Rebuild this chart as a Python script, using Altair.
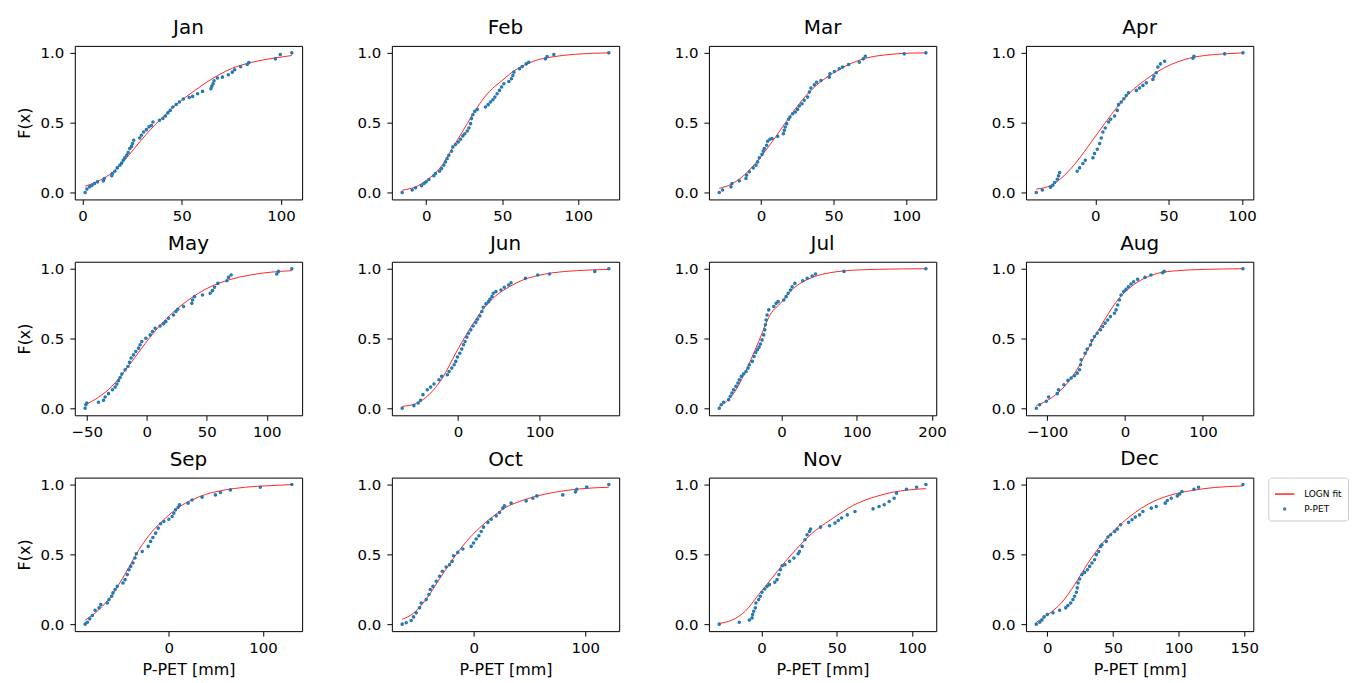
import altair as alt
import pandas as pd

FONT = "DejaVu Sans"
BLUE = "#1f77b4"
RED = "#ff0000"

months = ["Jan", "Feb", "Mar", "Apr", "May", "Jun",
          "Jul", "Aug", "Sep", "Oct", "Nov", "Dec"]
series_names = ["LOGN fit", "P-PET"]

jan_pts = [(1.3, 0), (2.2, .024), (3.5, .04), (4.7, .05), (6, .064), (7.5, .076), (10.5, .083), (11, .1),
           (14.7, .12), (15, .136), (16.3, .152), (17.5, .176), (18.8, .195), (19.7, .21), (20.5, .23),
           (21.3, .248), (22.2, .267), (23, .286), (23.8, .314), (24.7, .33), (25.2, .35), (25.8, .374),
           (28.8, .39), (29.7, .41), (30.8, .433), (32.2, .45), (33.5, .47), (34.7, .48), (35.5, .505),
           (38.8, .517), (40.5, .53), (41.8, .548), (43, .57), (44.2, .588), (45.5, .612), (47.2, .63),
           (48.8, .648), (50.8, .67), (53.8, .68), (55.5, .688), (58, .707), (60.5, .724), (64.7, .743),
           (65.2, .76), (65.8, .778), (66.3, .8), (68, .82), (70.5, .826), (73.5, .843), (75.5, .862),
           (76.7, .879), (79.7, .9), (83, .917), (83.8, .93), (97.2, .957), (99.7, .988), (105.5, 1.0)]
feb_pts = [(-15.8, 0), (-9.2, .017), (-7, .033), (-3.1, .048), (-1.5, .064), (0, .076), (1.8, .093), (5, .12),
           (6.1, .136), (8.8, .152), (10.1, .171), (11.6, .195), (12.7, .219), (13.8, .243), (14.9, .267),
           (16.7, .295), (17.5, .326), (19.3, .343), (21.1, .362), (22.6, .381), (24.1, .405), (25.4, .421),
           (27, .44), (28.1, .462), (29.2, .493), (29.8, .529), (30.7, .557), (32, .581), (33.6, .595),
           (39, .612), (40.8, .629), (42.3, .648), (43.9, .664), (45.2, .683), (46.7, .707), (48.2, .731),
           (49.6, .755), (51.1, .779), (54.4, .795), (56.1, .814), (57, .838), (57.7, .862), (61.4, .886),
           (63.2, .902), (65.8, .921), (67.5, .933), (78.5, .957), (79.6, .974), (84, .988), (120.2, 1.0)]
mar_pts = [(-28.7, 0), (-26.4, .017), (-20.6, .04), (-19.95, .064), (-14.9, .083), (-10.3, .1), (-9.9, .124),
           (-8, .148), (-5.3, .176), (-3.4, .195), (-2.3, .219), (-1.1, .248), (.7, .271), (1.6, .295),
           (2.3, .314), (3.9, .338), (4.6, .367), (6.2, .381), (7.6, .386), (11.5, .402), (15.4, .421),
           (16.1, .445), (16.7, .469), (17.7, .493), (19, .524), (20, .54), (21.8, .564), (23.6, .576),
           (25.2, .595), (26.4, .619), (28.2, .636), (29.8, .66), (32.1, .683), (33.3, .719), (34.4, .748),
           (36.7, .771), (38.3, .79), (41.3, .802), (47, .826), (47.5, .85), (50.5, .867), (53.9, .886),
           (56.2, .898), (60.3, .917), (67.7, .933), (70.4, .957), (71.8, .976), (98.6, .993), (113.5, 1.0)]
apr_pts = [(-40.2, 0), (-36.1, .017), (-30.5, .038), (-28.9, .052), (-27.7, .071), (-25.9, .095), (-25, .119),
           (-24.3, .143), (-12.3, .152), (-10.7, .176), (-8.4, .207), (-6.8, .231), (-1.6, .248), (-.5, .279),
           (1.4, .31), (3, .35), (4.1, .39), (5.2, .433), (6.8, .462), (9.1, .505), (10.5, .524), (13.2, .548),
           (15, .588), (15.9, .629), (17.7, .648), (19.5, .671), (21.1, .695), (22.7, .714), (28, .731),
           (30.2, .748), (32.5, .767), (34.8, .786), (39.3, .81), (40, .833), (41.6, .857), (42.7, .898),
           (44.5, .921), (47.3, .94), (66.6, .962), (67.3, .976), (88.2, .993), (100.7, 1.0)]
may_pts = [(-51.4, 0), (-50.8, .026), (-50, .038), (-40.3, .043), (-36.1, .057), (-34.7, .081), (-31.9, .105),
           (-28.6, .133), (-26.4, .152), (-25, .174), (-23.6, .198), (-22.2, .221), (-20.8, .245), (-18.1, .276),
           (-15.8, .3), (-14.4, .329), (-13.1, .36), (-11.1, .383), (-9.2, .407), (-6.9, .431), (-5.6, .455),
           (-4.2, .479), (-.8, .502), (2.8, .526), (4.7, .55), (6.9, .574), (11.1, .59), (13.9, .605),
           (15.8, .621), (18.1, .645), (22.2, .669), (24.2, .693), (25.8, .71), (30.6, .729), (37.5, .752),
           (38.1, .776), (39.7, .8), (46.4, .812), (52.8, .824), (54.7, .843), (56.4, .867), (59.2, .895),
           (66.7, .914), (68.1, .938), (70.3, .955), (108.3, .962), (109.7, .981), (120.8, 1.0)]
jun_pts = [(-68.7, 0), (-54.3, .019), (-49, .038), (-46.1, .057), (-43.2, .098), (-37.9, .133), (-33.7, .152),
           (-29.6, .174), (-23.5, .205), (-20.2, .229), (-13.2, .24), (-11.1, .264), (-7.8, .288), (-4.9, .312),
           (-2.9, .336), (-.8, .367), (2.1, .395), (4.5, .424), (6.6, .455), (8.6, .479), (10.7, .51),
           (12.8, .538), (15.6, .562), (18.5, .59), (21.8, .614), (23.9, .638), (26.7, .662), (29.2, .693),
           (30.9, .724), (34.2, .748), (37.4, .764), (39.1, .781), (41.6, .8), (43.2, .824), (46.5, .836),
           (52.7, .848), (56.8, .867), (62.1, .883), (65, .9), (82.7, .931), (97.9, .955), (112.3, .962),
           (167.9, .981), (185.2, 1.0)]
jul_pts = [(-82.7, 0), (-80, .026), (-76.9, .043), (-70.2, .062), (-68, .086), (-65.8, .11), (-63.6, .133),
           (-60.4, .157), (-57.8, .181), (-56, .205), (-53.3, .229), (-50.2, .248), (-47.1, .264), (-44.4, .288),
           (-42.7, .312), (-38.7, .336), (-36.4, .371), (-34.2, .4), (-32, .419), (-29.8, .438), (-28, .46),
           (-25.8, .49), (-23.6, .526), (-22.2, .562), (-21.3, .598), (-20.4, .633), (-19.1, .669), (-16.9, .705),
           (-10.2, .729), (-7.1, .752), (-4.4, .764), (3.1, .776), (6.2, .8), (8.9, .824), (12, .848),
           (14.2, .871), (17.8, .895), (28.4, .914), (34.2, .931), (40.9, .948), (45.3, .962), (83.1, .981),
           (192, 1.0)]
aug_pts = [(-113.9, 0), (-109.6, .026), (-101.1, .05), (-98.1, .081), (-87, .105), (-85.3, .133), (-78.5, .169),
           (-73.3, .2), (-69.1, .217), (-64.8, .233), (-61.4, .252), (-58.4, .276), (-57.1, .312), (-56.3, .348),
           (-51.2, .395), (-48.6, .424), (-44.3, .455), (-42.6, .486), (-39.2, .514), (-35.8, .538),
           (-31.6, .562), (-28.6, .586), (-25.6, .61), (-22.2, .633), (-18.8, .657), (-13.6, .681), (-11.5, .705),
           (-9.4, .74), (-7.2, .776), (-5.1, .812), (-1.7, .836), (1.3, .852), (4.3, .871), (7.7, .89),
           (11.1, .907), (16.2, .924), (25.6, .938), (33.3, .955), (48.2, .971), (50.3, .981), (151.4, 1.0)]
sep_pts = [(-89, 0), (-86.6, .014), (-84.1, .038), (-81.3, .062), (-78.4, .1), (-74.2, .117), (-72.4, .14),
           (-65.4, .152), (-63.6, .176), (-60.8, .2), (-59.4, .224), (-57.2, .248), (-54.8, .271), (-48.8, .295),
           (-46.6, .319), (-44.2, .355), (-42.4, .39), (-40.6, .414), (-38.2, .438), (-36, .474), (-34.6, .505),
           (-28.3, .521), (-21.9, .557), (-19.4, .593), (-17, .621), (-14.1, .652), (-11.3, .688), (-8.8, .719),
           (-5.3, .736), (0, .752), (3.5, .771), (5.3, .795), (7.1, .819), (9.9, .838), (11.3, .855),
           (20.5, .867), (24.7, .89), (35.3, .91), (49.5, .926), (54.8, .943), (65.4, .962), (97.2, .981),
           (130.7, 1.0)]
oct_pts = [(-64.4, 0), (-60.8, .01), (-56.3, .026), (-54.2, .052), (-51.8, .081), (-48.8, .117), (-47.3, .152),
           (-42.8, .176), (-40.4, .212), (-39.2, .248), (-36.8, .271), (-33.8, .307), (-30.8, .343), (-28.4, .379),
           (-24.9, .41), (-21.9, .426), (-19.5, .45), (-18.3, .49), (-14.4, .514), (-9.9, .538), (-2.4, .557),
           (-.3, .581), (2.1, .61), (4.5, .633), (6.6, .664), (8.7, .695), (12.6, .729), (15.6, .752),
           (20.1, .776), (23.1, .8), (26, .831), (27.5, .848), (33.5, .867), (47, .883), (53, .902), (56.6, .919),
           (79.9, .926), (91.3, .948), (92.5, .967), (101.5, .983), (121.3, 1.0)]
nov_pts = [(-28, 0), (-14.7, .014), (-8, .029), (-6.2, .045), (-5.8, .069), (-5.1, .093), (-4, .117),
           (-3.6, .152), (-1.8, .176), (-.7, .2), (.4, .229), (2.2, .252), (3.8, .271), (5.3, .283), (8.9, .3),
           (10.4, .319), (11.6, .355), (12.7, .39), (13.8, .419), (15.6, .426), (18.7, .45), (21.6, .474),
           (24.4, .505), (25.3, .521), (27.1, .557), (28.9, .605), (30.4, .64), (32, .664), (32.7, .681),
           (39.3, .695), (45.3, .705), (48.9, .724), (51.1, .743), (53.3, .76), (57.1, .783), (62.2, .807),
           (74.2, .826), (78.2, .843), (81.6, .855), (84.9, .879), (88.2, .902), (89.8, .938), (96.4, .967),
           (103.1, .981), (109.3, 1.0)]
dec_pts = [(-8.4, 0), (-5.8, .014), (-4.1, .029), (-2.5, .052), (0, .069), (4.3, .081), (9.4, .1), (14, .117),
           (15.7, .133), (17.8, .152), (19.5, .176), (20.8, .2), (22.1, .229), (22.8, .26), (23.4, .295),
           (24.6, .324), (26.4, .355), (28.4, .371), (30.5, .39), (32.2, .414), (34, .438), (36, .462),
           (37.3, .498), (39.1, .521), (40.6, .557), (41.6, .569), (44.9, .593), (46.2, .624), (48.2, .64),
           (51.3, .664), (53.3, .681), (55.8, .712), (61.9, .729), (64.5, .748), (67, .767), (70.3, .783),
           (72.8, .807), (79.2, .831), (83, .843), (89.8, .867), (91.4, .886), (94.4, .902), (99, .919),
           (100.8, .933), (102.5, .95), (111.7, .967), (115.2, .981), (149, 1.0)]

# ---- fitted lognormal CDF curves ----
jan_fit = [(1.3, .045), (8.8, .088), (15.5, .148), (22.2, .248), (28.8, .362), (35.5, .469), (42.2, .564),
           (48.8, .648), (55.5, .719), (62.2, .786), (68.8, .843), (75.5, .89), (82.2, .921), (88.8, .943),
           (97.2, .964), (105.5, .981)]
feb_fit = [(-15.8, .017), (-7, .04), (1.8, .1), (10.5, .195), (17.1, .314), (23.7, .433), (30.3, .552),
           (36.8, .66), (43.4, .743), (50, .802), (56.6, .862), (63.2, .905), (71.9, .945), (82.9, .971),
           (98.2, .99), (120.2, 1.0)]
mar_fit = [(-28.7, .029), (-19.5, .064), (-10.3, .136), (-1.1, .243), (8, .367), (17.2, .505), (26.4, .636),
           (35.6, .743), (44.7, .821), (53.9, .881), (63.1, .929), (72.2, .962), (86, .986), (102, .998),
           (113.5, 1.0)]
apr_fit = [(-40.2, .024), (-30, .052), (-20.9, .124), (-11.8, .231), (-2.7, .362), (6.4, .493), (15.5, .619),
           (24.5, .724), (33.6, .802), (42.7, .867), (51.8, .917), (60.9, .952), (74.5, .981), (88.2, .993),
           (100.7, 1.0)]
may_fit = [(-51.4, .026), (-40.3, .079), (-29.2, .157), (-18.1, .271), (-6.9, .4), (4.2, .526), (15.3, .633),
           (26.4, .721), (37.5, .793), (48.6, .852), (59.7, .895), (70.8, .926), (87.5, .957), (104.2, .976),
           (120.8, .986)]
jun_fit = [(-68.7, .014), (-52.3, .033), (-35.8, .098), (-19.3, .217), (-2.9, .395), (13.6, .562), (30, .705),
           (46.5, .807), (63, .871), (79.4, .919), (95.9, .948), (116.5, .971), (145.3, .986), (185.2, .995)]
jul_fit = [(-82.7, .014), (-65.8, .09), (-48, .26), (-30.2, .48), (-15, .67), (0, .76), (14, .85),
           (28, .905), (42, .94), (65, .972), (85, .985), (130, .996), (192, 1.0)]
aug_fit = [(-113.9, .019), (-94.7, .074), (-77.6, .157), (-60.6, .288), (-43.5, .467), (-26.4, .633),
           (-9.4, .776), (7.7, .871), (24.7, .931), (41.8, .967), (67.4, .986), (101.5, .995), (151.4, 1.0)]
sep_fit = [(-89, .029), (-74.2, .105), (-60.1, .212), (-45.9, .367), (-31.8, .533), (-17.7, .664), (-3.5, .76),
           (10.6, .838), (24.7, .89), (38.9, .929), (60.1, .962), (81.3, .981), (109.5, .993), (130.7, 1.0)]
oct_fit = [(-64.4, .035), (-54.8, .075), (-42.8, .18), (-30.8, .325), (-18.9, .465), (-6.9, .59), (5.1, .69),
           (17.1, .771), (29, .838), (41, .879), (53, .91), (71, .943), (94.9, .969), (121.3, .981)]
nov_fit = [(-28, .005), (-19.6, .029), (-10.7, .093), (-1.8, .212), (7.1, .331), (16, .45), (24.9, .557),
           (33.8, .652), (42.7, .724), (51.6, .788), (60.4, .848), (69.3, .89), (78.2, .921), (87.1, .945),
           (98.2, .962), (109.3, .971)]
dec_fit = [(-8.4, .014), (.5, .069), (10.7, .152), (20.8, .283), (31, .438), (41.1, .569), (51.3, .676),
           (61.4, .76), (71.6, .831), (81.7, .883), (94.4, .926), (109.6, .957), (127.4, .979), (149, .99)]

# ---- x tick labels per panel ----
jan_ticks = [0, 50, 100]
feb_ticks = [0, 50, 100]
mar_ticks = [0, 50, 100]
apr_ticks = [0, 50, 100]
may_ticks = [-50, 0, 50, 100]
jun_ticks = [0, 100]
jul_ticks = [0, 100, 200]
aug_ticks = [-100, 0, 100]
sep_ticks = [0, 100]
oct_ticks = [0, 100]
nov_ticks = [0, 50, 100]
dec_ticks = [0, 50, 100, 150]
y_ticks = [0.0, 0.5, 1.0]

all_pts = [jan_pts, feb_pts, mar_pts, apr_pts, may_pts, jun_pts,
           jul_pts, aug_pts, sep_pts, oct_pts, nov_pts, dec_pts]
all_fit = [jan_fit, feb_fit, mar_fit, apr_fit, may_fit, jun_fit,
           jul_fit, aug_fit, sep_fit, oct_fit, nov_fit, dec_fit]
all_ticks = [jan_ticks, feb_ticks, mar_ticks, apr_ticks, may_ticks, jun_ticks,
             jul_ticks, aug_ticks, sep_ticks, oct_ticks, nov_ticks, dec_ticks]

W, H = 228, 154


def panel(i):
    name = months[i]
    row, col = divmod(i, 4)
    pdf = pd.DataFrame(all_pts[i], columns=["x", "F"])
    pdf["series"] = "P-PET"
    fdf = pd.DataFrame(all_fit[i], columns=["x", "F"])
    fdf["series"] = "LOGN fit"
    xs = list(pdf["x"]) + list(fdf["x"])
    lo, hi = min(xs), max(xs)
    pad = 0.05 * (hi - lo)
    xscale = alt.Scale(domain=[lo - pad, hi + pad], nice=False, zero=False)
    yscale = alt.Scale(domain=[-0.05, 1.05], nice=False, zero=False)
    xaxis = alt.Axis(values=all_ticks[i], format="d",
                     title="P-PET [mm]" if row == 2 else None)
    yaxis = alt.Axis(values=y_ticks, format=".1f",
                     title="F(x)" if col == 0 else None)

    line = alt.Chart(fdf).mark_line(
        color=RED, strokeWidth=1, opacity=0.85, interpolate="monotone"
    ).encode(
        x=alt.X("x:Q", scale=xscale, axis=xaxis),
        y=alt.Y("F:Q", scale=yscale, axis=yaxis),
        order=alt.Order("x:Q"),
    )

    if name == "Dec":
        leg = alt.Legend(title=None, orient="right", offset=15, padding=6,
                         strokeColor="#cccccc", cornerRadius=3, fillColor="white",
                         labelFont=FONT, labelFontSize=9, labelColor="black",
                         rowPadding=5, symbolStrokeWidth=1.3, labelOffset=9)
        enc = dict(
            color=alt.Color("series:N", scale=alt.Scale(domain=series_names, range=[RED, BLUE]), legend=leg),
            shape=alt.Shape("series:N", scale=alt.Scale(domain=series_names, range=["stroke", "circle"]), legend=leg),
            size=alt.Size("series:N", scale=alt.Scale(domain=series_names, range=[380, 4]), legend=leg),
        )
        pmark = alt.Chart(pdf).mark_point(filled=False, strokeWidth=1.6, opacity=1)
    else:
        enc = dict(color=alt.value(BLUE), size=alt.value(4))
        pmark = alt.Chart(pdf).mark_point(filled=False, strokeWidth=1.6, opacity=1, shape="circle")

    pts = pmark.encode(
        x=alt.X("x:Q", scale=xscale, axis=xaxis),
        y=alt.Y("F:Q", scale=yscale, axis=yaxis),
        **enc,
    )
    return alt.layer(line, pts).properties(width=W, height=H, title=name)


panels = [panel(i) for i in range(12)]

chart = alt.concat(
    *panels, columns=4,
    spacing=alt.RowColnumber(row=62.5, column=90),
    bounds="flush",
).resolve_legend(
    color="independent", shape="independent", size="independent"
).resolve_scale(
    color="independent", shape="independent", size="independent"
).properties(
    padding={"left": 7, "top": 8, "right": 0, "bottom": 0}
).configure_view(
    stroke="black", strokeWidth=1
).configure_axis(
    labelFont=FONT, labelFontSize=15, labelColor="black",
    titleFont=FONT, titleFontSize=16, titleFontWeight="normal", titleColor="black",
    tickColor="black", tickSize=5, tickWidth=1, domain=False, grid=False,
)
chart = chart.configure_axisX(labelPadding=4, titlePadding=6).configure_axisY(
    labelPadding=6, titlePadding=8
).configure_title(
    font=FONT, fontSize=20, fontWeight="normal", color="black", offset=8, anchor="middle"
)

chart.save("out.html", embed_options={"renderer": "svg", "actions": False})
